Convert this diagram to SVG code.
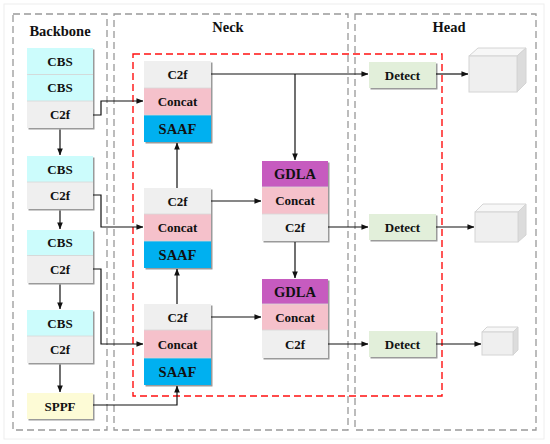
<svg xmlns="http://www.w3.org/2000/svg" width="550" height="444" viewBox="0 0 550 444" font-family="'Liberation Serif', 'Times New Roman', serif">
<defs>
<style>
text{font-family:'Liberation Serif','Times New Roman',serif}
.t{font-weight:bold;font-size:13px;text-anchor:middle;fill:#111}
.h{font-weight:bold;font-size:14.5px;text-anchor:middle;fill:#111}
.grp{fill:none;stroke:#999;stroke-width:1.3;stroke-dasharray:7 4}
.red{fill:none;stroke:#ff1010;stroke-width:1.4;stroke-dasharray:7 4}
.sh{fill:#9a9a9a}
.cbs{fill:#ccfcfc}
.c2f{fill:#efefef}
.cat{fill:#f5c1cb}
.saaf{fill:#00b0f0}
.gdla{fill:#c65bbf}
.det{fill:#e2efda}
.sppf{fill:#fdfbd6}
.sep{stroke:#d8d8d8;stroke-width:0.8}
.ln{fill:none;stroke:#111;stroke-width:1.2}
.cf{fill:#efefef;stroke:#d4d4d4;stroke-width:1}
.ct{fill:#f7f7f7;stroke:#d4d4d4;stroke-width:1}
.cs{fill:#dcdcdc;stroke:#d4d4d4;stroke-width:1}
</style>
<marker id="ar" viewBox="0 0 8 8" refX="7.5" refY="4" markerWidth="7" markerHeight="7" markerUnits="userSpaceOnUse" orient="auto">
<path d="M0,0.8 L8,4 L0,7.2 Z" fill="#111"/>
</marker>
</defs>
<rect x="0" y="0" width="550" height="444" fill="#ffffff"/>
<rect x="4" y="4" width="540" height="435" fill="none" stroke="#eeeeee" stroke-width="1"/>

<g id="groups">
<rect class="grp" x="13" y="14" width="94" height="416"/>
<rect class="grp" x="114" y="14" width="234" height="416"/>
<rect class="grp" x="355" y="14" width="181" height="416"/>
<rect class="red" x="133" y="54" width="309" height="342"/>
<text class="h" x="60" y="36">Backbone</text>
<text class="h" x="228" y="32">Neck</text>
<text class="h" x="449" y="32">Head</text>
</g>

<g id="bb1">
<rect class="sh" x="28.5" y="49.5" width="66" height="80"/>
<rect class="cbs" x="27" y="48" width="66" height="26.5"/>
<rect class="cbs" x="27" y="74.5" width="66" height="26.5"/>
<rect class="c2f" x="27" y="101" width="66" height="27"/>
<line class="sep" x1="27" y1="74.5" x2="93" y2="74.5"/>
<line class="sep" x1="27" y1="101" x2="93" y2="101"/>
<text class="t" x="60" y="65.5">CBS</text>
<text class="t" x="60" y="92">CBS</text>
<text class="t" x="60" y="119">C2f</text>
</g>
<g id="bb2">
<rect class="sh" x="28.5" y="157.5" width="66" height="53"/>
<rect class="cbs" x="27" y="156" width="66" height="26"/>
<rect class="c2f" x="27" y="182" width="66" height="27"/>
<line class="sep" x1="27" y1="182" x2="93" y2="182"/>
<text class="t" x="60" y="173.5">CBS</text>
<text class="t" x="60" y="200">C2f</text>
</g>
<g id="bb3">
<rect class="sh" x="28.5" y="231.5" width="66" height="53"/>
<rect class="cbs" x="27" y="230" width="66" height="25.5"/>
<rect class="c2f" x="27" y="255.5" width="66" height="27.5"/>
<line class="sep" x1="27" y1="255.5" x2="93" y2="255.5"/>
<text class="t" x="60" y="247">CBS</text>
<text class="t" x="60" y="274">C2f</text>
</g>
<g id="bb4">
<rect class="sh" x="28.5" y="311.5" width="66" height="53"/>
<rect class="cbs" x="27" y="310" width="66" height="26"/>
<rect class="c2f" x="27" y="336" width="66" height="27"/>
<line class="sep" x1="27" y1="336" x2="93" y2="336"/>
<text class="t" x="60" y="327.5">CBS</text>
<text class="t" x="60" y="354">C2f</text>
</g>
<g id="sppf">
<rect class="sh" x="28.5" y="394.5" width="66" height="26"/>
<rect class="sppf" x="27" y="393" width="66" height="26"/>
<text class="t" x="60" y="410.5">SPPF</text>
</g>

<g id="neck1">
<rect class="sh" x="145.5" y="62.5" width="67" height="81"/>
<rect class="c2f" x="144" y="61" width="67" height="27"/>
<rect class="cat" x="144" y="88" width="67" height="27"/>
<rect class="saaf" x="144" y="115" width="67" height="27"/>
<line class="sep" x1="144" y1="88" x2="211" y2="88"/>
<line class="sep" x1="144" y1="115" x2="211" y2="115"/>
<text class="t" x="177.5" y="79">C2f</text>
<text class="t" x="177.5" y="106">Concat</text>
<text class="t" x="177.5" y="133.5" style="font-size:14.5px">SAAF</text>
</g>
<g id="neck2">
<rect class="sh" x="145.5" y="189.5" width="67" height="80"/>
<rect class="c2f" x="144" y="188" width="67" height="26"/>
<rect class="cat" x="144" y="214" width="67" height="27"/>
<rect class="saaf" x="144" y="241" width="67" height="27"/>
<line class="sep" x1="144" y1="214" x2="211" y2="214"/>
<line class="sep" x1="144" y1="241" x2="211" y2="241"/>
<text class="t" x="177.5" y="205.5">C2f</text>
<text class="t" x="177.5" y="232">Concat</text>
<text class="t" x="177.5" y="259.5" style="font-size:14.5px">SAAF</text>
</g>
<g id="neck3">
<rect class="sh" x="145.5" y="305.5" width="67" height="81"/>
<rect class="c2f" x="144" y="304" width="67" height="26"/>
<rect class="cat" x="144" y="330" width="67" height="28"/>
<rect class="saaf" x="144" y="358" width="67" height="27"/>
<line class="sep" x1="144" y1="330" x2="211" y2="330"/>
<line class="sep" x1="144" y1="358" x2="211" y2="358"/>
<text class="t" x="177.5" y="321.5">C2f</text>
<text class="t" x="177.5" y="348.5">Concat</text>
<text class="t" x="177.5" y="376.5" style="font-size:14.5px">SAAF</text>
</g>

<g id="gdla1">
<rect class="sh" x="263.5" y="162.5" width="66" height="80"/>
<rect class="gdla" x="262" y="161" width="66" height="26"/>
<rect class="cat" x="262" y="187" width="66" height="27"/>
<rect class="c2f" x="262" y="214" width="66" height="27"/>
<line class="sep" x1="262" y1="187" x2="328" y2="187"/>
<line class="sep" x1="262" y1="214" x2="328" y2="214"/>
<text class="t" x="295" y="179" style="font-size:14.5px">GDLA</text>
<text class="t" x="295" y="205">Concat</text>
<text class="t" x="295" y="232">C2f</text>
</g>
<g id="gdla2">
<rect class="sh" x="263.5" y="280.5" width="66" height="79"/>
<rect class="gdla" x="262" y="279" width="66" height="25"/>
<rect class="cat" x="262" y="304" width="66" height="26"/>
<rect class="c2f" x="262" y="330" width="66" height="28"/>
<line class="sep" x1="262" y1="304" x2="328" y2="304"/>
<line class="sep" x1="262" y1="330" x2="328" y2="330"/>
<text class="t" x="295" y="296.5" style="font-size:14.5px">GDLA</text>
<text class="t" x="295" y="321.5">Concat</text>
<text class="t" x="295" y="348.5">C2f</text>
</g>

<g id="det1">
<rect class="sh" x="370.5" y="63.5" width="67" height="26"/>
<rect class="det" x="369" y="62" width="67" height="26"/>
<text class="t" x="402.5" y="79.5">Detect</text>
</g>
<g id="det2">
<rect class="sh" x="370.5" y="215.5" width="67" height="26"/>
<rect class="det" x="369" y="214" width="67" height="26"/>
<text class="t" x="402.5" y="231.5">Detect</text>
</g>
<g id="det3">
<rect class="sh" x="370.5" y="332.5" width="67" height="26"/>
<rect class="det" x="369" y="331" width="67" height="26"/>
<text class="t" x="402.5" y="348.5">Detect</text>
</g>

<g id="cube1">
<polygon class="ct" points="469,56 478,48 526,48 517,56"/>
<polygon class="cs" points="517,56 526,48 526,83 517,92"/>
<rect class="cf" x="469" y="56" width="48" height="36"/>
</g>
<g id="cube2">
<polygon class="ct" points="475,212 483,204 526,204 518,212"/>
<polygon class="cs" points="518,212 526,204 526,235 518,242"/>
<rect class="cf" x="475" y="212" width="43" height="30"/>
</g>
<g id="cube3">
<polygon class="ct" points="482,332 487,327 518,327 513,332"/>
<polygon class="cs" points="513,332 518,327 518,350 513,355"/>
<rect class="cf" x="482" y="332" width="31" height="23"/>
</g>

<g id="connectors">
<polyline class="ln" points="93,115 101,115 101,101 143,101" marker-end="url(#ar)"/>
<line class="ln" x1="60" y1="129.5" x2="60" y2="155" marker-end="url(#ar)"/>
<polyline class="ln" points="93,195 101,195 101,227 143,227" marker-end="url(#ar)"/>
<line class="ln" x1="60" y1="210.5" x2="60" y2="229" marker-end="url(#ar)"/>
<polyline class="ln" points="93,269 101,269 101,344 143,344" marker-end="url(#ar)"/>
<line class="ln" x1="60" y1="284.5" x2="60" y2="309" marker-end="url(#ar)"/>
<line class="ln" x1="60" y1="364.5" x2="60" y2="392" marker-end="url(#ar)"/>
<polyline class="ln" points="93,405 177,405 177,386" marker-end="url(#ar)"/>
<line class="ln" x1="177" y1="304" x2="177" y2="269" marker-end="url(#ar)"/>
<line class="ln" x1="177" y1="188" x2="177" y2="143" marker-end="url(#ar)"/>
<line class="ln" x1="211" y1="74" x2="368" y2="74" marker-end="url(#ar)"/>
<line class="ln" x1="295" y1="74" x2="295" y2="160" marker-end="url(#ar)"/>
<line class="ln" x1="211" y1="201" x2="261" y2="201" marker-end="url(#ar)"/>
<line class="ln" x1="328" y1="227" x2="368" y2="227" marker-end="url(#ar)"/>
<line class="ln" x1="295" y1="242" x2="295" y2="278" marker-end="url(#ar)"/>
<line class="ln" x1="211" y1="317" x2="261" y2="317" marker-end="url(#ar)"/>
<line class="ln" x1="328" y1="344" x2="368" y2="344" marker-end="url(#ar)"/>
<line class="ln" x1="436" y1="74" x2="468" y2="74" marker-end="url(#ar)"/>
<line class="ln" x1="436" y1="227" x2="474" y2="227" marker-end="url(#ar)"/>
<line class="ln" x1="436" y1="344" x2="481" y2="344" marker-end="url(#ar)"/>
</g>
</svg>
